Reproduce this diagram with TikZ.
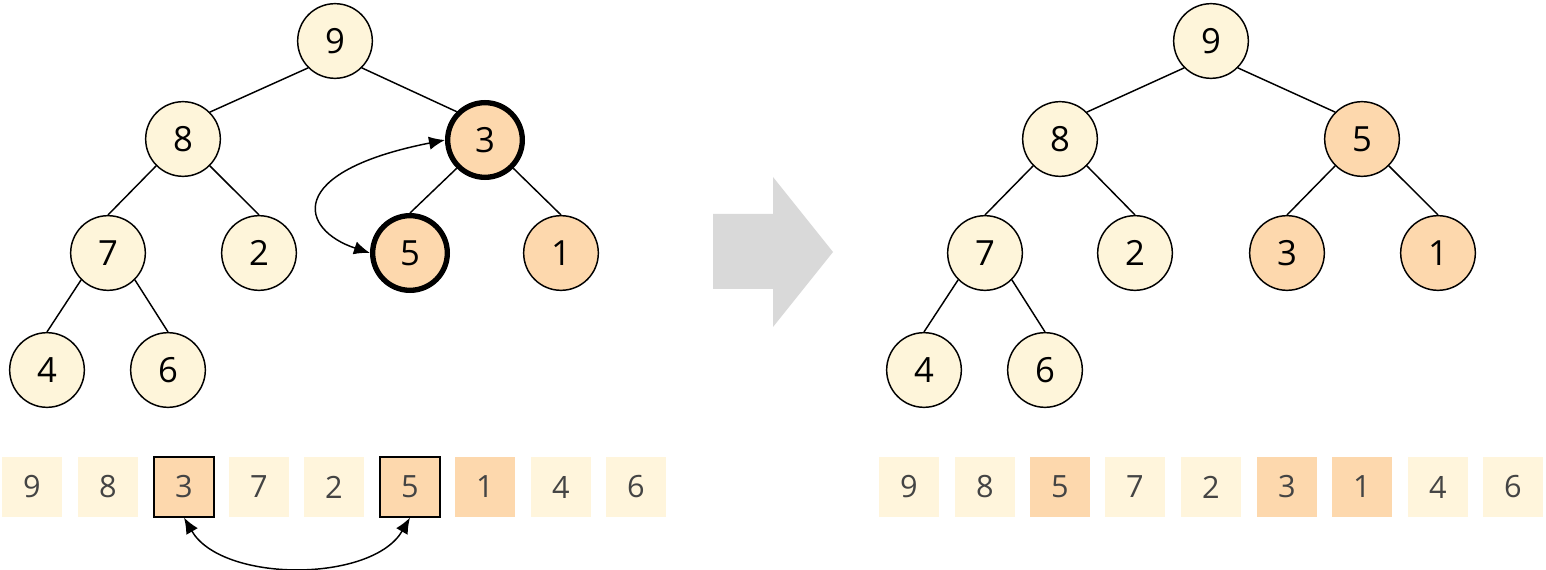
\documentclass[tikz,border=0pt]{standalone}
\usepackage{fontspec}
\setmainfont{Open Sans}
\usetikzlibrary{arrows.meta}
\definecolor{cream}{HTML}{FEF5DA}
\definecolor{cellcream}{HTML}{FFF5DC}
\definecolor{peach}{HTML}{FDD8AD}
\definecolor{arrowgray}{HTML}{D9D9D9}
\definecolor{celltext}{HTML}{444444}
\tikzset{
  treenode/.style={circle, draw=black, line width=1.1pt, fill=cream, minimum size=56pt, inner sep=0pt, font=\fontsize{26}{30}\selectfont},
  hotnode/.style={treenode, fill=peach},
  swapnode/.style={hotnode, line width=4pt, minimum size=56pt},
  cell/.style={rectangle, fill=cellcream, minimum width=45pt, minimum height=45pt, inner sep=0pt, text=celltext, font=\fontsize{23}{28}\selectfont},
  hotcell/.style={cell, fill=peach},
  swapcell/.style={hotcell, draw=black, line width=0.9pt},
  edge/.style={draw=black, line width=1.1pt},
  swaparrow/.style={draw=black, line width=1.1pt, {Latex[length=12pt,width=10pt]}-{Latex[length=12pt,width=10pt]}},
}
\begin{document}
\begin{tikzpicture}[x=0.75pt, y=-0.75pt]
\useasboundingbox (0,0) rectangle (1546,570);
% left tree
\node[treenode] (l9) at (335,41) {9};
\node[treenode] (l8) at (183,139) {8};
\node[swapnode] (l3) at (485,140) {3};
\node[treenode] (l7) at (108,253) {7};
\node[treenode] (l2) at (259,253) {2};
\node[swapnode] (l5) at (410,253) {5};
\node[hotnode] (l1) at (561,253) {1};
\node[treenode] (l4) at (47,370) {4};
\node[treenode] (l6) at (168,370) {6};
\draw[edge] (l9.south west) -- (l8.north east);
\draw[edge] (l9.south east) -- (l3.north west);
\draw[edge] (l8.south west) -- (l7.north);
\draw[edge] (l8.south east) -- (l2.north);
\draw[edge] (l3.south west) -- (l5.north);
\draw[edge] (l3.south east) -- (l1.north);
\draw[edge] (l7.south west) -- (l4.north);
\draw[edge] (l7.south east) -- (l6.north);
\draw[swaparrow] (l3.west) .. controls (283,172) and (300,230) .. (l5.west);
% left array
\node[cell] (a1) at (32,487) {9};
\node[cell] (a2) at (108,487) {8};
\node[swapcell] (a3) at (184,487) {3};
\node[cell] (a4) at (259,487) {7};
\node[cell] (a5) at (334,487) {2};
\node[swapcell] (a6) at (410,487) {5};
\node[hotcell] (a7) at (485,487) {1};
\node[cell] (a8) at (561,487) {4};
\node[cell] (a9) at (636,487) {6};
\draw[swaparrow] (a3.south) .. controls (222,583) and (372,583) .. (a6.south);
% big arrow
\fill[arrowgray] (713,214) -- (773,214) -- (773,177) -- (833,252) -- (773,327) -- (773,289) -- (713,289) -- cycle;
% right tree
\node[treenode] (r9) at (1211,41) {9};
\node[treenode] (r8) at (1060,139) {8};
\node[hotnode] (r5) at (1362,139) {5};
\node[treenode] (r7) at (985,253) {7};
\node[treenode] (r2) at (1135,253) {2};
\node[hotnode] (r3) at (1287,253) {3};
\node[hotnode] (r1) at (1438,253) {1};
\node[treenode] (r4) at (924,370) {4};
\node[treenode] (r6) at (1045,370) {6};
\draw[edge] (r9.south west) -- (r8.north east);
\draw[edge] (r9.south east) -- (r5.north west);
\draw[edge] (r8.south west) -- (r7.north);
\draw[edge] (r8.south east) -- (r2.north);
\draw[edge] (r5.south west) -- (r3.north);
\draw[edge] (r5.south east) -- (r1.north);
\draw[edge] (r7.south west) -- (r4.north);
\draw[edge] (r7.south east) -- (r6.north);
% right array
\node[cell] (b1) at (909,487) {9};
\node[cell] (b2) at (985,487) {8};
\node[hotcell] (b3) at (1060,487) {5};
\node[cell] (b4) at (1135,487) {7};
\node[cell] (b5) at (1211,487) {2};
\node[hotcell] (b6) at (1287,487) {3};
\node[hotcell] (b7) at (1362,487) {1};
\node[cell] (b8) at (1438,487) {4};
\node[cell] (b9) at (1513,487) {6};
\end{tikzpicture}
\end{document}
